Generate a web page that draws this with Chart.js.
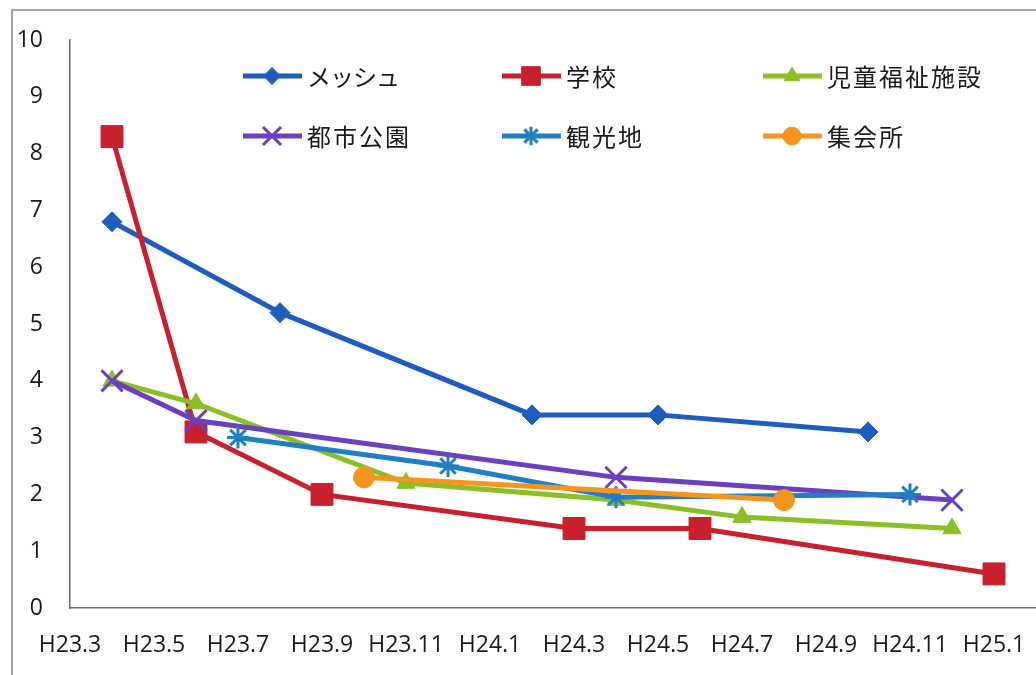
<!DOCTYPE html>
<html><head><meta charset="utf-8">
<script src="https://cdn.jsdelivr.net/npm/chart.js@4/dist/chart.umd.min.js"></script>
<style>
html,body{margin:0;padding:0;background:#fff;overflow:hidden}
#wrap{position:relative;width:1036px;height:675px;background:#fff}
#frame{position:absolute;left:11px;top:9px;width:1100px;height:700px;border-left:2px solid #a4a4a4;border-top:2px solid #a4a4a4;box-sizing:border-box}
canvas{position:absolute;left:0;top:0}
</style></head><body>
<div id="wrap"><div id="frame"></div><canvas id="c" width="1036" height="675"></canvas></div>
<script>
// categories (monthly, Heisei year.month)
const months = ['H23.3','H23.4','H23.5','H23.6','H23.7','H23.8','H23.9','H23.10','H23.11','H23.12',
  'H24.1','H24.2','H24.3','H24.4','H24.5','H24.6','H24.7','H24.8','H24.9','H24.10','H24.11','H24.12',
  'H25.1','H25.2'];
const tickLabels = ['H23.3','H23.5','H23.7','H23.9','H23.11','H24.1','H24.3','H24.5','H24.7','H24.9','H24.11','H25.1'];
const yTicks = [0,1,2,3,4,5,6,7,8,9,10];

const seriesNames = ['メッシュ','学校','児童福祉施設','都市公園','観光地','集会所'];

const meshMonths = ['H23.4','H23.8','H24.2','H24.5','H24.10'];
const meshValues = [6.8, 5.2, 3.4, 3.4, 3.1];
const schoolMonths = ['H23.4','H23.6','H23.9','H24.3','H24.6','H25.1'];
const schoolValues = [8.3, 3.1, 2.0, 1.4, 1.4, 0.6];
const childMonths = ['H23.4','H23.6','H23.11','H24.4','H24.7','H24.12'];
const childValues = [4.0, 3.6, 2.2, 1.9, 1.6, 1.4];
const parkMonths = ['H23.4','H23.6','H24.4','H24.12'];
const parkValues = [4.0, 3.3, 2.3, 1.9];
const touristMonths = ['H23.7','H23.12','H24.4','H24.11'];
const touristValues = [3.0, 2.5, 1.95, 2.0];
const hallMonths = ['H23.10','H24.8'];
const hallValues = [2.3, 1.9];

const seriesMonths = [meshMonths, schoolMonths, childMonths, parkMonths, touristMonths, hallMonths];
const seriesValues = [meshValues, schoolValues, childValues, parkValues, touristValues, hallValues];

// styles
const styles = [
  {color:'#1f5cc0', point:'rectRot', r:10, bw:1},
  {color:'#c8202c', point:'rect',    r:15.5, bw:1},
  {color:'#8cbf26', point:'triangle',r:10.5, bw:1},
  {color:'#6a3fc0', point:'crossRot',r:15, bw:3},
  {color:'#1f7fc2', point:'star',    r:11, bw:3},
  {color:'#f7941d', point:'circle',  r:10.5, bw:1}
];

const datasets = seriesNames.map((name, i) => ({
  label: name,
  data: seriesMonths[i].map((m, j) => ({x: m, y: seriesValues[i][j]})),
  borderColor: styles[i].color,
  backgroundColor: styles[i].color,
  borderWidth: 5,
  pointStyle: styles[i].point,
  pointRadius: styles[i].r,
  pointHoverRadius: styles[i].r,
  pointBorderWidth: styles[i].bw,
  pointBackgroundColor: styles[i].color,
  pointBorderColor: styles[i].color,
  tension: 0,
  order: 5 - i,
  clip: false
}));

const legendPlugin = {
  id: 'customLegend',
  afterDraw(chart) {
    const ctx = chart.ctx;
    const colX = [243, 502, 763];
    const rowY = [76, 136];
    ctx.save();
    chart.data.datasets.forEach((ds, i) => {
      const x0 = colX[i % 3], y = rowY[Math.floor(i / 3)];
      const st = styles[i];
      ctx.strokeStyle = st.color; ctx.fillStyle = st.color;
      ctx.lineWidth = 5; ctx.lineCap = 'butt';
      ctx.beginPath(); ctx.moveTo(x0, y); ctx.lineTo(x0 + 59, y); ctx.stroke();
      const opts = {pointStyle: st.point, radius: st.r * 0.85, rotation: 0, borderWidth: st.bw};
      ctx.lineWidth = st.bw;
      if (Chart.helpers && Chart.helpers.drawPoint) {
        Chart.helpers.drawPoint(ctx, opts, x0 + 29, y);
      } else {
        ctx.beginPath(); ctx.arc(x0 + 29, y, 8, 0, Math.PI * 2); ctx.fill();
      }
      ctx.fillStyle = '#1a1a1a';
      ctx.font = '24px "Noto Sans CJK JP"';
      try { ctx.letterSpacing = i === 0 ? '-1px' : '2px'; } catch (e) {}
      ctx.textBaseline = 'middle'; ctx.textAlign = 'left';
      ctx.fillText(ds.label, x0 + 64, y + 1);
      try { ctx.letterSpacing = '0px'; } catch (e) {}
    });
    ctx.restore();
  }
};

const tickFont = {family: '"Open Sans", "Liberation Sans", sans-serif', size: 23};

new Chart(document.getElementById('c'), {
  type: 'line',
  data: {labels: months, datasets},
  options: {
    responsive: false,
    animation: false,
    events: [],
    layout: {autoPadding: false, padding: {top: 40, right: 0, left: 0, bottom: 0}},
    plugins: {legend: {display: false}, tooltip: {enabled: false}},
    scales: {
      x: {
        type: 'category',
        labels: months,
        offset: false,
        grid: {display: false, drawTicks: true, tickLength: 24},
        border: {display: true, color: '#707070', width: 1.5},
        ticks: {
          autoSkip: false, maxRotation: 0, minRotation: 0, padding: 0,
          color: '#1a1a1a', font: tickFont,
          callback: (v, i) => tickLabels.includes(months[i]) ? months[i] : ''
        },
        afterFit: s => { s.height = 67; }
      },
      y: {
        min: yTicks[0], max: yTicks[yTicks.length - 1],
        grid: {display: false, drawTicks: true, tickLength: 27},
        border: {display: true, color: '#707070', width: 1.5},
        ticks: {stepSize: 1, padding: 0, color: '#1a1a1a', font: tickFont},
        afterFit: s => { s.width = 70; }
      }
    }
  },
  plugins: [legendPlugin]
});
</script>
</body></html>
